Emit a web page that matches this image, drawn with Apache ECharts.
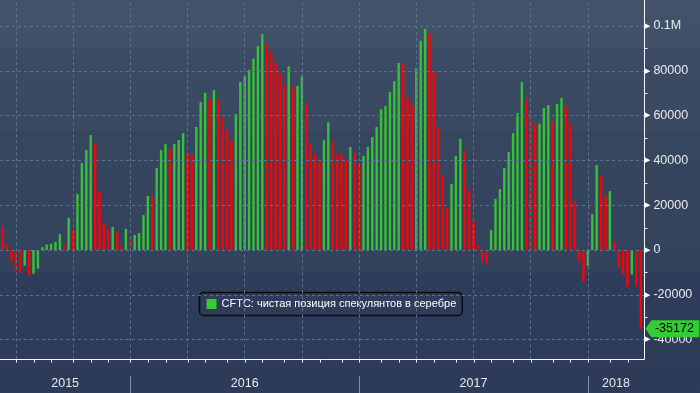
<!DOCTYPE html>
<html><head><meta charset="utf-8">
<script src="https://cdn.jsdelivr.net/npm/echarts@6/dist/echarts.min.js"></script>
<style>html,body{margin:0;padding:0;background:#2d3b58;}#chart{width:700px;height:393px;}</style>
</head><body><div id="chart"></div>
<script>
// ---- data ----
const seriesName = 'CFTC: чистая позиция спекулянтов в серебре';
const firstWeek = [2015, 5, 16]; // first weekly report date (Tue, 16 Jun 2015)
const netPosition = [
  10400, 2400, -5400, -9200, -10100, -7000, -11500, -10600, -8300, 1300,
  2400, 2700, 3600, 7100, 2400, 14300, 8900, 25000, 38800, 44600,
  51300, 47900, 25900, 12200, 8900, 10300, 8000, 1500, 9400, 6200,
  6700, 7600, 15600, 24100, 24000, 36600, 44600, 47300, 45200, 47400,
  49100, 52200, 42900, 42000, 54900, 66100, 70100, 67000, 71400, 67000,
  58900, 53600, 48800, 60700, 75000, 77700, 80400, 85400, 91100, 96400,
  92100, 88700, 83700, 78800, 73900, 82000, 73000, 73200, 77500, 65800,
  47200, 42800, 40500, 49000, 57000, 48500, 42800, 42700, 40500, 46000,
  43500, 38800, 42000, 46000, 50400, 54900, 62900, 64300, 70500, 75400,
  83500, 83000, 67900, 64900, 81200, 93400, 98700, 96400, 79900, 54500,
  33500, 18500, 29500, 42000, 49600, 44200, 26800, 12500, 1800, -5400,
  -6500, 8900, 22800, 27200, 36600, 43700, 52200, 61200, 75000, 67000,
  58500, 56200, 56400, 63400, 64700, 57600, 65200, 67900, 64100, 56200,
  21900, -5400, -14100, -7000, 16100, 37900, 33000, 23800, 26300, 3600,
  -7900, -10600, -16400, -11000, -16400, -35172
];
const yLabelValues = [-40000, -20000, 0, 20000, 40000, 60000, 80000, 100000];
const yTickValues = [-40000, -30000, -20000, -10000, 0, 10000, 20000, 30000, 40000, 50000, 60000, 70000, 80000, 90000, 100000];
const yLabelText = {100000: '0.1M'};
const yRange = [-48800, 111600];

// ---- derived structure ----
const DAY = 864e5;
const t0 = Date.UTC(firstWeek[0], firstWeek[1], firstWeek[2]);
const weekDates = netPosition.map((_, i) => new Date(t0 + i * 7 * DAY));
const monthIdx = [], quarterIdx = [], yearIdx = [];
weekDates.forEach((d, i) => {
  if (i === 0) return;
  const p = weekDates[i - 1];
  if (d.getUTCMonth() !== p.getUTCMonth()) {
    monthIdx.push(i);
    if (d.getUTCMonth() % 3 === 0) quarterIdx.push(i);
    if (d.getUTCMonth() === 0) yearIdx.push(i);
  }
});
const xMin = -0.614, xMax = netPosition.length - 1 + 0.75;
const bounds = [xMin, ...yearIdx, xMax];
const yearLabelPos = [], yearLabelMap = {};
for (let k = 0; k < bounds.length - 1; k++) {
  const mid = (bounds[k] + bounds[k + 1]) / 2;
  yearLabelPos.push(mid);
  const refIdx = k === 0 ? 0 : yearIdx[k - 1];
  yearLabelMap[mid.toFixed(3)] = String(weekDates[refIdx].getUTCFullYear());
}

const GREEN = '#36c236', RED = '#ff0000';
const barData = netPosition.map((v, i) => ({
  value: [i, v],
  itemStyle: {color: (i > 0 && v > netPosition[i - 1]) ? GREEN : RED}
}));
const lastI = netPosition.length - 1;

const FONT = '"Liberation Sans", Arial, sans-serif';
const gridColor = '#5b7591';
const AXIS_COLOR = '#f6f6f6';
const hidden = {axisLine: {show: false, onZero: false}, axisTick: {show: false}, axisLabel: {show: false}, splitLine: {show: false}};
const xBase = {type: 'value', min: xMin, max: xMax, position: 'bottom'};
const yBase = {type: 'value', min: yRange[0], max: yRange[1], position: 'right'};

// axis frame (bottom + right lines, monthly ticks, minor value ticks) drawn through the grid's own coordinates
function renderFrame(params, api) {
  const cs = params.coordSys;
  const bottom = Math.floor(cs.y + cs.height) + 0.5;
  const right = Math.floor(cs.x + cs.width) + 0.5;
  const st = {stroke: AXIS_COLOR, lineWidth: 1, fill: null};
  const children = [
    {type: 'line', shape: {x1: cs.x, y1: bottom, x2: right, y2: bottom}, style: st},
    {type: 'line', shape: {x1: right, y1: cs.y, x2: right, y2: bottom}, style: st}
  ];
  monthIdx.forEach(i => {
    const px = Math.round(api.coord([i, yRange[0]])[0]) + 0.5;
    children.push({type: 'line', shape: {x1: px, y1: bottom, x2: px, y2: bottom + 3}, style: st});
  });
  yTickValues.forEach(v => {
    const py = Math.round(api.coord([xMax, v])[1]) + 0.5;
    children.push({type: 'line', shape: {x1: right, y1: py, x2: right + 3, y2: py}, style: st});
  });
  return {type: 'group', children};
}

const chart = echarts.init(document.getElementById('chart'), null, {renderer: 'canvas'});
chart.setOption({
  animation: false,
  backgroundColor: {
    type: 'linear', x: 0, y: 0, x2: 0, y2: 1,
    colorStops: [
      {offset: 0, color: '#425369'}, {offset: 0.122, color: '#405068'},
      {offset: 0.123, color: '#3b4b65'}, {offset: 0.333, color: '#394961'},
      {offset: 0.334, color: '#36465f'}, {offset: 0.69, color: '#33435d'},
      {offset: 0.695, color: '#2f3d5a'}, {offset: 1, color: '#2d3b58'}
    ]
  },
  grid: {left: 0, right: 56, top: 0, bottom: 33.7},
  legend: {
    show: true, left: 199.5, top: 292.5,
    data: [{name: seriesName, itemStyle: {color: '#33cc33'}}],
    icon: 'rect', itemWidth: 10, itemHeight: 10, itemGap: 5,
    padding: [6, 6, 6, 7],
    borderColor: '#0a0a0a', borderWidth: 1.5, borderRadius: 4,
    textStyle: {color: '#ffffff', fontSize: 11, fontFamily: FONT}
  },
  xAxis: [{
    // year labels
    ...xBase, ...hidden,
    axisLabel: {show: true, customValues: yearLabelPos, margin: 18, color: '#e8eaee',
      fontSize: 12.5, fontFamily: FONT,
      formatter: v => yearLabelMap[Number(v).toFixed(3)] || ''}
  }, {
    // year separators below the axis
    ...xBase, ...hidden, offset: 16.7,
    axisTick: {show: true, customValues: yearIdx, length: 17, lineStyle: {color: '#8592a6', width: 1}}
  }],
  yAxis: [{
    // labels with wedge markers
    ...yBase, ...hidden,
    axisLabel: {
      show: true, customValues: yLabelValues, margin: 1,
      formatter: v => '{t|▶}{n|' + (yLabelText[v] || String(v)) + '}',
      rich: {
        t: {fontSize: 7, color: '#ffffff', fontFamily: '"DejaVu Sans"', padding: [0, 3, 0, 0]},
        n: {fontSize: 12.5, color: '#e8eaee', fontFamily: FONT}
      }
    }
  }],
  series: [{
    type: 'line', data: [], z: 1, silent: true,
    markLine: {
      silent: true, symbol: ['none', 'none'], animation: false,
      label: {show: false},
      lineStyle: {color: gridColor, type: [3, 3], width: 1},
      data: [
        ...quarterIdx.map(i => ({xAxis: i})),
        ...yLabelValues.map(v => ({yAxis: v}))
      ]
    }
  }, {
    type: 'custom', coordinateSystem: 'cartesian2d', xAxisIndex: 0, yAxisIndex: 0,
    z: 5, silent: true, clip: false, animation: false,
    data: [[xMin, yRange[0]]],
    renderItem: renderFrame
  }, {
    name: seriesName, type: 'bar', z: 2, barWidth: 2.4, clip: false,
    data: barData,
    itemStyle: {color: GREEN},
    markPoint: {
      silent: true, animation: false,
      symbol: 'path://M0,8.5L6,0L54,0L54,17L6,17Z',
      symbolSize: [54, 17], symbolOffset: [31.7, 0],
      itemStyle: {color: '#33cc33'},
      label: {show: true, position: 'inside', color: '#000000', fontSize: 12.5, fontFamily: FONT,
        offset: [2, 0], formatter: p => String(p.value)},
      data: [{coord: [lastI, netPosition[lastI]], value: netPosition[lastI]}]
    }
  }]
});
</script>
</body></html>
